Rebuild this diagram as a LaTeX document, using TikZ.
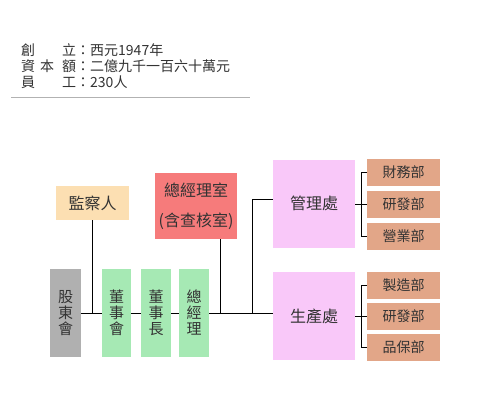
\documentclass[tikz,border=0pt]{standalone}
\usepackage{fontspec}
\setmainfont{Noto Sans CJK TC}
\definecolor{cjc}{HTML}{FCDFB2}
\definecolor{czs}{HTML}{F67B7B}
\definecolor{cgd}{HTML}{B0B0B0}
\definecolor{cgr}{HTML}{A6E9B4}
\definecolor{cpk}{HTML}{F9C8F9}
\definecolor{csm}{HTML}{E2A688}
\definecolor{ctx}{HTML}{333333}
\tikzset{
  box/.style={inner sep=0pt, align=center, text=ctx, font=\fontsize{16}{30}\selectfont},
  vbox/.style={box, minimum width=30pt, minimum height=88pt, font=\fontsize{15}{16}\selectfont},
  bigbox/.style={box, fill=cpk, minimum width=82pt, minimum height=88pt},
  smallbox/.style={box, fill=csm, minimum width=73pt, minimum height=27pt, font=\fontsize{14}{16}\selectfont},
  hdr/.style={anchor=west, inner sep=0pt, text=ctx, font=\fontsize{14}{16}\selectfont},
  conn/.style={draw=black, line width=0.9pt}
}
\begin{document}
\begin{tikzpicture}[x=1pt,y=-1pt]
\useasboundingbox[fill=white] (0,0) rectangle (480,400);
% header
\node[hdr] (h1a) at (21,50) {創};
\node[hdr] (h1b) at (62,50) {立：西元1947年};
\node[hdr] (h2a) at (21,66) {資};
\node[hdr] (h2b) at (40,66) {本};
\node[hdr] (h2c) at (62,66) {額：二億九千一百六十萬元};
\node[hdr] (h3a) at (21,82) {員};
\node[hdr] (h3b) at (62,82) {工：230人};
\coordinate (sepL) at (11,97);
\coordinate (sepR) at (250,97);
\draw[gray!60, line width=0.8pt] (sepL) -- (sepR);
% boxes
\node[box, fill=cjc, minimum width=73pt, minimum height=34pt] (jc) at (92.5,203) {監察人};
\node[box, fill=czs, minimum width=82pt, minimum height=66pt] (zs) at (196,206) {總經理室\\(含查核室)};
\node[vbox, fill=cgd, minimum width=31pt] (gd) at (65.5,313) {股\\東\\會};
\node[vbox, fill=cgr, minimum width=29pt] (dsh) at (116.5,313) {董\\事\\會};
\node[vbox, fill=cgr] (dsz) at (156,313) {董\\事\\長};
\node[vbox, fill=cgr] (zjl) at (194,313) {總\\經\\理};
\node[bigbox] (gl) at (314,203.5) {管理處};
\node[bigbox] (sc) at (314,316) {生產處};
\node[smallbox] (f1) at (403.5,172.5) {財務部};
\node[smallbox] (f2) at (403.5,204.5) {研發部};
\node[smallbox] (f3) at (403.5,236) {營業部};
\node[smallbox] (p1) at (403.5,285) {製造部};
\node[smallbox] (p2) at (403.5,316.5) {研發部};
\node[smallbox] (p3) at (403.5,347.5) {品保部};
% connectors
\coordinate (jz) at (220,313);
\coordinate (br) at (252,313);
\draw[conn] (gd.east) -- (dsh.west);
\draw[conn] (dsh.west |- gd.east) -- (dsh.west);
\draw[conn] (dsh.east) -- (dsz.west);
\draw[conn] (dsz.east) -- (zjl.west);
\draw[conn] (zjl.east) -- (zjl.east -| sc.west);
\draw[conn] (jc.south) -- (jc.south |- gd.east);
\draw[conn] (zs.south -| jz) -- (jz);
\draw[conn] (br) |- ([yshift=4pt]gl.west);
\draw[conn] (gl.east |- f2.west) -- (f2.west);
\draw[conn] (f1.west) -- ++(-5,0) |- (f3.west);
\draw[conn] (sc.east |- p2.west) -- (p2.west);
\draw[conn] (p1.west) -- ++(-5,0) |- (p3.west);
\end{tikzpicture}
\end{document}
